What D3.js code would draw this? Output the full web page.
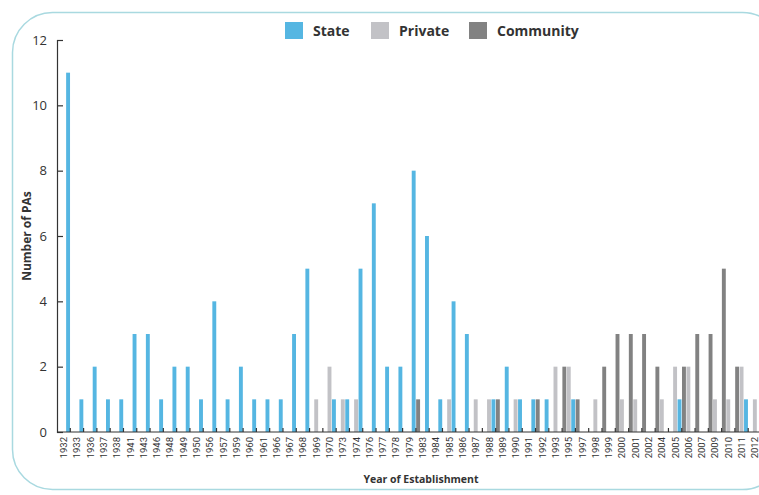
<!DOCTYPE html>
<html>
<head>
<meta charset="utf-8">
<script src="https://cdn.jsdelivr.net/npm/d3@7/dist/d3.min.js"></script>
<style>
  html, body { margin: 0; padding: 0; background: #fff; }
  svg { display: block; }
</style>
</head>
<body>
<svg id="chart" width="759" height="495"></svg>
<script>
const years = ["1932","1933","1936","1937","1938","1941","1943","1946","1948","1949","1950","1956","1957","1959","1960","1961","1966","1967","1968","1969","1970","1973","1974","1976","1977","1978","1979","1983","1984","1985","1986","1987","1988","1989","1990","1991","1992","1993","1995","1997","1998","1999","2000","2001","2002","2004","2005","2006","2007","2009","2010","2011","2012"];
const stateVals     = [11,1,2,1,1,3,3,1,2,2,1,4,1,2,1,1,1,3,5,0,1,1,5,7,2,2,8,6,1,4,3,0,1,2,1,1,1,0,1,0,0,0,0,0,0,0,1,0,0,0,0,1,0];
const privateVals   = [0,0,0,0,0,0,0,0,0,0,0,0,0,0,0,0,0,0,0,1,2,1,1,0,0,0,0,0,0,1,0,1,1,0,1,0,0,2,2,0,1,0,1,1,0,1,2,2,0,1,1,2,1];
const communityVals = [0,0,0,0,0,0,0,0,0,0,0,0,0,0,0,0,0,0,0,0,0,0,0,0,0,0,0,1,0,0,0,0,0,1,0,0,1,0,2,1,0,2,3,3,3,2,0,2,3,3,5,2,0];
const seriesNames = ["State","Private","Community"];
const yTicks = [0,2,4,6,8,10,12];

const colors = {State: "#55b6e2", Private: "#c2c2c6", Community: "#828282"};
const svg = d3.select("#chart");

// rounded frame
svg.append("rect")
  .attr("x", 12.5).attr("y", 12.5)
  .attr("width", 770).attr("height", 477)
  .attr("rx", 40).attr("ry", 40)
  .attr("fill", "none").attr("stroke", "#a9d9e0").attr("stroke-width", 1.5);

const x0 = d3.scaleBand().domain(years).range([57, 761.5]).padding(0);
const drawOrder = ["Community","Private","State"];
const x1 = d3.scaleBand().domain(drawOrder).range([0, x0.bandwidth()]).paddingInner(0.12).paddingOuter(0.06);
const y = d3.scaleLinear().domain([0, 12]).range([432, 40]);

const data = years.map((yr, i) => ({
  year: yr,
  State: stateVals[i],
  Private: privateVals[i],
  Community: communityVals[i]
}));

const g = svg.append("g");
g.selectAll("g.grp").data(data).join("g")
  .attr("class", "grp")
  .attr("transform", d => `translate(${x0(d.year)},0)`)
  .selectAll("rect")
  .data(d => drawOrder.map(k => ({key: k, value: d[k]})).filter(e => e.value > 0))
  .join("rect")
  .attr("x", d => x1(d.key))
  .attr("width", x1.bandwidth())
  .attr("y", d => y(d.value))
  .attr("height", d => y(0) - y(d.value))
  .attr("fill", d => colors[d.key]);

// Y axis
const yAxis = d3.axisLeft(y).tickValues(yTicks).tickSize(-6).tickPadding(10);
const ya = svg.append("g").attr("transform", "translate(57,0)").call(yAxis);
ya.select(".domain").attr("stroke", "#333").attr("stroke-width", 1.2);
ya.selectAll(".tick line").attr("stroke", "#333").attr("stroke-width", 1.2);
ya.selectAll("text").attr("font-family", "Open Sans, sans-serif").attr("font-size", 13).attr("fill", "#333");

// X axis
const xAxis = d3.axisBottom(x0).tickSize(0).tickPadding(0);
const xa = svg.append("g").attr("transform", "translate(0,432)").call(xAxis);
xa.select(".domain").attr("stroke", "#333").attr("stroke-width", 1.2).attr("d", "M57,0H759");
xa.selectAll(".tick text")
  .attr("font-family", "Roboto, sans-serif")
  .attr("font-size", 9.5)
  .attr("fill", "#333")
  .attr("text-anchor", "end")
  .attr("transform", "translate(3.5,5) rotate(-90)")
  .attr("dy", "0");
// group boundary ticks
xa.selectAll("line.bt").data(years.slice(0, -1)).join("line")
  .attr("class", "bt")
  .attr("x1", d => x0(d) + x0.bandwidth()).attr("x2", d => x0(d) + x0.bandwidth())
  .attr("y1", 0).attr("y2", -4)
  .attr("stroke", "#333").attr("stroke-width", 1.2);

// axis titles
svg.append("text")
  .attr("x", 421).attr("y", 483)
  .attr("text-anchor", "middle")
  .attr("font-family", "Open Sans, sans-serif").attr("font-weight", "bold")
  .attr("font-size", 10.5).attr("fill", "#333")
  .text("Year of Establishment");
svg.append("text")
  .attr("transform", "translate(31,236) rotate(-90)")
  .attr("text-anchor", "middle")
  .attr("font-family", "Open Sans, sans-serif").attr("font-weight", "bold")
  .attr("font-size", 12).attr("fill", "#333")
  .text("Number of PAs");

// legend
const legendPos = [285, 371, 469];
const lg = svg.append("g");
seriesNames.forEach((s, i) => {
  lg.append("rect").attr("x", legendPos[i]).attr("y", 22).attr("width", 18).attr("height", 17).attr("fill", colors[s]);
  lg.append("text").attr("x", legendPos[i] + 28).attr("y", 36)
    .attr("font-family", "Open Sans, sans-serif").attr("font-weight", "bold")
    .attr("font-size", 14).attr("fill", "#333").text(s);
});
</script>
</body>
</html>
